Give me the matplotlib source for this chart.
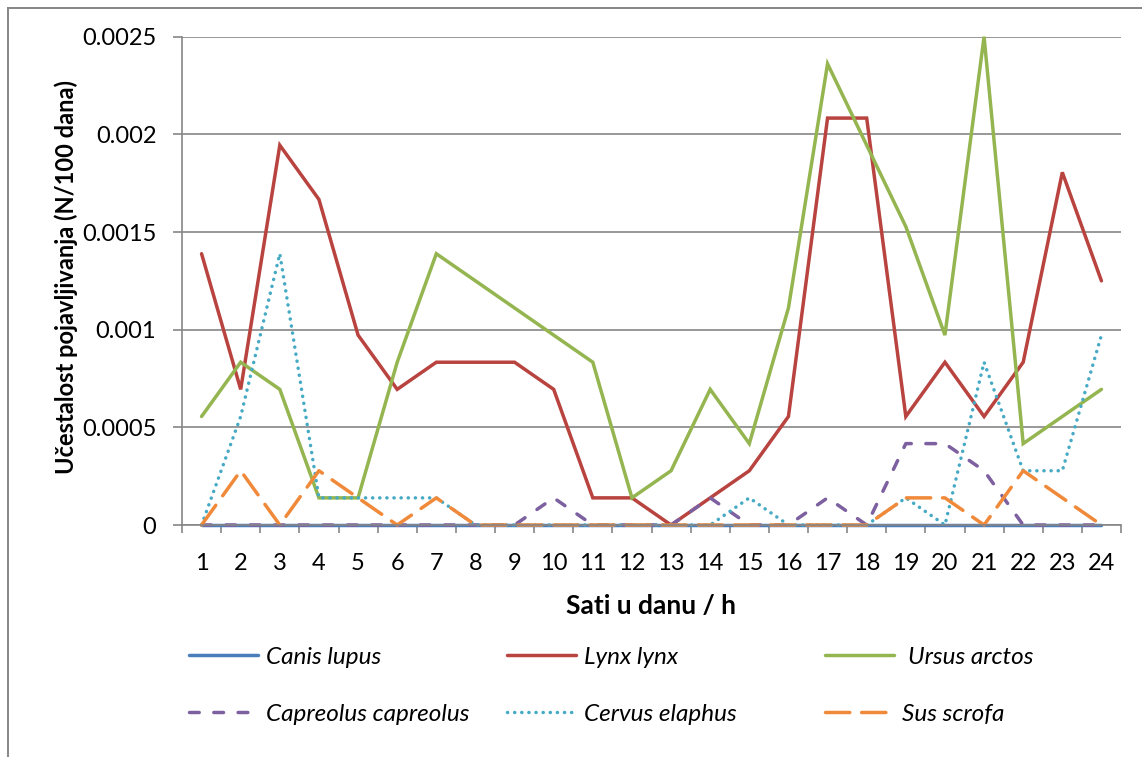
import matplotlib
matplotlib.use("Agg")
import matplotlib.pyplot as plt
from matplotlib.lines import Line2D
import numpy as np

plt.rcParams['font.family'] = ['Lato', 'DejaVu Sans']

hours = list(range(1, 25))
u = 0.0025 / 18.0
canis_lupus = [0] * 24
lynx_lynx_u = [10, 5, 14, 12, 7, 5, 6, 6, 6, 5, 1, 1, 0, 1, 2, 4, 15, 15, 4, 6, 4, 6, 13, 9]
ursus_arctos_u = [4, 6, 5, 1, 1, 6, 10, 9, 8, 7, 6, 1, 2, 5, 3, 8, 17, 14, 11, 7, 18, 3, 4, 5]
capreolus_u = [0, 0, 0, 0, 0, 0, 0, 0, 0, 1, 0, 0, 0, 1, 0, 0, 1, 0, 3, 3, 2, 0, 0, 0]
cervus_u = [0, 4, 10, 1, 1, 1, 1, 0, 0, 0, 0, 0, 0, 0, 1, 0, 0, 0, 1, 0, 6, 2, 2, 7]
sus_u = [0, 2, 0, 2, 1, 0, 1, 0, 0, 0, 0, 0, 0, 0, 0, 0, 0, 0, 1, 1, 0, 2, 1, 0]

series = [
    ("Canis lupus", [v * u for v in canis_lupus], "#4A7EBB", "solid"),
    ("Lynx lynx", [v * u for v in lynx_lynx_u], "#B8433F", "solid"),
    ("Ursus arctos", [v * u for v in ursus_arctos_u], "#94B550", "solid"),
    ("Capreolus capreolus", [v * u for v in capreolus_u], "#7D60A0", (0, (2.8, 4.2))),
    ("Cervus elaphus", [v * u for v in cervus_u], "#46AAC5", (0, (0.05, 2.0))),
    ("Sus scrofa", [v * u for v in sus_u], "#F08A3A", (0, (7.0, 3.4))),
]
yticks = [0, 0.0005, 0.001, 0.0015, 0.002, 0.0025]
ytick_labels = ["0", "0.0005", "0.001", "0.0015", "0.002", "0.0025"]

W, H = 1142, 757
fig = plt.figure(figsize=(W / 100, H / 100), dpi=100)
ax = fig.add_axes([182 / W, 1 - 525 / H, 939 / W, 488.3 / H])

gray = "#868686"
lw = 2.5
handles = []
for name, vals, col, ls in series:
    ln, = ax.plot(hours, vals, color=col, lw=lw, linestyle=ls, clip_on=False,
                  solid_capstyle='round', dash_capstyle='round', solid_joinstyle='miter',
                  label=name)
    handles.append(ln)

ax.set_xlim(0.5, 24.5)
ax.set_ylim(0, 0.0025)
ax.set_yticks(yticks)
ax.set_yticklabels(ytick_labels)
ax.set_xticks(np.arange(0.5, 25, 1))
ax.set_xticklabels([])
ax.set_xticks(hours, minor=True)
ax.set_xticklabels([str(h) for h in hours], minor=True)
ax.tick_params(axis='x', which='major', length=5.5, color=gray, width=1.2, direction='out')
ax.tick_params(axis='x', which='minor', length=0, pad=20, labelsize=17)
ax.tick_params(axis='y', length=6.5, color=gray, width=1.2, pad=12, labelsize=17)
ax.grid(axis='y', color=gray, lw=1.2)
ax.set_axisbelow(True)
for s in ['top', 'right']:
    ax.spines[s].set_visible(False)
for s in ['left', 'bottom']:
    ax.spines[s].set_color(gray)
    ax.spines[s].set_linewidth(1.2)

ax.set_ylabel("Učestalost pojavljivanja (N/100 dana)", fontsize=17, fontweight='bold')
ax.yaxis.set_label_coords((66 - 182) / 939, (525 - 277) / 488.3)
ax.set_xlabel("Sati u danu / h", fontsize=19, fontweight='bold')
ax.xaxis.set_label_coords(0.5, (525 - 606) / 488.3)
ax.xaxis.label.set_va('center')
ax.yaxis.label.set_va('center')

# legend: three columns, two rows, each entry placed on its own
col_x = [189, 507, 825]
row_y = [657, 714]
text_pad = [0.3, 0.3, 0.55]
for i, h in enumerate(handles):
    cx = col_x[i % 3]
    ry = row_y[i // 3]
    pad = text_pad[i % 3] if i < 3 else 0.3
    fig.legend([h], [h.get_label()], loc='center left',
               bbox_to_anchor=(cx / W, 1 - ry / H), frameon=False,
               prop={'style': 'italic', 'size': 17.5}, handlelength=2.85,
               handletextpad=pad, borderaxespad=0, borderpad=0)

# outer frame
fig.add_artist(Line2D([8 / W, 8 / W], [0, 1 - 8 / H], color=gray, lw=1.4, transform=fig.transFigure))
fig.add_artist(Line2D([8 / W, 1], [1 - 8 / H, 1 - 8 / H], color=gray, lw=1.4, transform=fig.transFigure))

fig.savefig("out.png", dpi=100)
